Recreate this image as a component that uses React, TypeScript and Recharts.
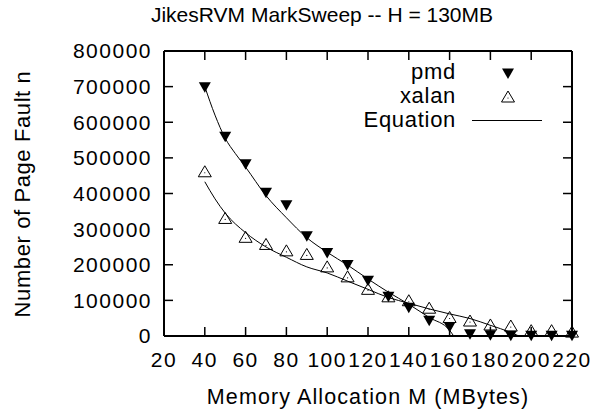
import React from 'react';
import {ComposedChart, Scatter, XAxis, YAxis} from 'recharts';

const FONT = '"Liberation Sans", Arial, Helvetica, sans-serif';

const chartTitle = 'JikesRVM MarkSweep -- H = 130MB';
const xLabel = 'Memory Allocation M (MBytes)';
const yLabel = 'Number of Page Fault n';
const legendNames = ['pmd', 'xalan', 'Equation'];

const X_MIN = 20;
const X_MAX = 220;
const Y_MIN = 0;
const Y_MAX = 800000;
const xTicks = [20, 40, 60, 80, 100, 120, 140, 160, 180, 200, 220];
const yTicks = [0, 100000, 200000, 300000, 400000, 500000, 600000, 700000, 800000];

// measured points
const memoryMB = [40, 50, 60, 70, 80, 90, 100, 110, 120, 130, 140, 150, 160, 170, 180, 190, 200, 210, 220];
const pmdFaults = [698000, 559000, 482000, 402000, 367000, 280000, 233000, 199000, 155000, 110000, 79000, 43000, 25000, 5000, 2000, 1000, 1000, 500, 500];
const xalanFaults = [461000, 330000, 277000, 257000, 239000, 229000, 194000, 166000, 131000, 110000, 99000, 78000, 52000, 42000, 31000, 28000, 15000, 15000, 11000];

// fitted curves ("Equation")
const pmdFitX = [40, 45, 50, 55, 60, 70, 80, 90, 100, 110, 120, 130, 140, 150, 160, 162];
const pmdFitY = [700000, 620000, 555000, 512000, 474000, 394000, 332000, 276000, 235000, 199000, 160000, 123000, 89000, 52000, 16000, 0];
const xalanFitX = [40, 45, 50, 60, 70, 80, 90, 100, 110, 120, 130, 140, 150, 160, 170, 180, 190, 194];
const xalanFitY = [433000, 385000, 345000, 290000, 250000, 221000, 194000, 177000, 154000, 131000, 108000, 92000, 76000, 62000, 49000, 30000, 10000, 0];

const toPoints = (xs: number[], ys: number[]) => xs.map((x, i) => ({x, y: ys[i]}));

const pmdData = toPoints(memoryMB, pmdFaults);
const xalanData = toPoints(memoryMB, xalanFaults);
const pmdFit = toPoints(pmdFitX, pmdFitY);
const xalanFit = toPoints(xalanFitX, xalanFitY);

// gnuplot-style inward tick marks on all four sides, placed through the chart scales
const innerX = xTicks.slice(1, -1);
const innerY = yTicks.slice(1, -1);
const bottomTicks = innerX.map((x) => ({x, y: Y_MIN}));
const topTicks = innerX.map((x) => ({x, y: Y_MAX}));
const leftTicks = innerY.map((y) => ({x: X_MIN, y}));
const rightTicks = innerY.map((y) => ({x: X_MAX, y}));

const TICK_LEN = 9;

const tickMark = (dx: number, dy: number) => ({cx, cy}: any) => (
    <line x1={cx} y1={cy} x2={cx + dx} y2={cy + dy} stroke="#000" strokeWidth={1.5}/>
);

const DownTriangle = ({cx, cy}: any) => (
    <path d={`M${cx - 6},${cy - 5}L${cx + 6},${cy - 5}L${cx},${cy + 5.5}Z`} fill="#000"/>
);

const UpTriangle = ({cx, cy}: any) => (
    <g>
        <path d={`M${cx - 6.5},${cy + 5}L${cx + 6.5},${cy + 5}L${cx},${cy - 6}Z`} fill="none" stroke="#000" strokeWidth={1}/>
        <circle cx={cx} cy={cy + 1} r={0.6} fill="#000"/>
    </g>
);

const NoMark = () => <g/>;

const TitleAndLegend = () => {
    const textStyle = {fontFamily: FONT, fill: '#000'};
    return (
        <g>
            <text x={322} y={22} textAnchor="middle" fontSize={21} {...textStyle}>{chartTitle}</text>
            {legendNames.map((name, i) => (
                <text key={name} x={456} y={79 + i * 24} textAnchor="end" fontSize={22} letterSpacing={0.7} {...textStyle}>{name}</text>
            ))}
            <DownTriangle cx={508} cy={73.5}/>
            <UpTriangle cx={508} cy={97}/>
            <line x1={472} x2={542} y1={120.5} y2={120.5} stroke="#000" strokeWidth={1}/>
        </g>
    );
};

const tickText = {fill: '#000', fontSize: 21, fontFamily: FONT, letterSpacing: 1.5};
const axisLine = {stroke: '#000', strokeWidth: 2};

export default function App() {
    return (
        <div style={{position: 'absolute', left: 0, top: 0}}>
            <ComposedChart width={595} height={411} margin={{top: 50, right: 22, bottom: 0, left: 104}}>
                <XAxis
                    dataKey="x"
                    type="number"
                    domain={[X_MIN, X_MAX]}
                    ticks={xTicks}
                    interval={0}
                    height={75}
                    tickSize={0}
                    tickMargin={16}
                    tick={tickText}
                    tickLine={false}
                    axisLine={axisLine}
                    label={{value: xLabel, position: 'insideBottom', offset: 7, fill: '#000', fontSize: 21.5, fontFamily: FONT, letterSpacing: 1.1}}
                />
                <XAxis
                    xAxisId="top"
                    orientation="top"
                    type="number"
                    domain={[X_MIN, X_MAX]}
                    ticks={xTicks}
                    height={1}
                    tick={false}
                    tickLine={false}
                    axisLine={axisLine}
                    label={{content: () => <TitleAndLegend/>}}
                />
                <YAxis
                    dataKey="y"
                    type="number"
                    domain={[Y_MIN, Y_MAX]}
                    ticks={yTicks}
                    interval={0}
                    width={60}
                    tickSize={0}
                    tickMargin={12}
                    tick={tickText}
                    tickLine={false}
                    axisLine={axisLine}
                    label={{
                        content: () => (
                            <text x={30} y={194} transform="rotate(-90 30 194)" textAnchor="middle"
                                  fontFamily={FONT} fontSize={22} letterSpacing={0.6} fill="#000">{yLabel}</text>
                        ),
                    }}
                />
                <YAxis
                    yAxisId="right"
                    orientation="right"
                    type="number"
                    domain={[Y_MIN, Y_MAX]}
                    ticks={yTicks}
                    width={1}
                    tick={false}
                    tickLine={false}
                    axisLine={axisLine}
                />
                <Scatter data={bottomTicks} shape={tickMark(0, -TICK_LEN)} isAnimationActive={false} legendType="none"/>
                <Scatter data={topTicks} shape={tickMark(0, TICK_LEN)} isAnimationActive={false} legendType="none"/>
                <Scatter data={leftTicks} shape={tickMark(TICK_LEN, 0)} isAnimationActive={false} legendType="none"/>
                <Scatter data={rightTicks} shape={tickMark(-TICK_LEN, 0)} isAnimationActive={false} legendType="none"/>
                <Scatter name="pmd" data={pmdData} shape={DownTriangle} isAnimationActive={false}/>
                <Scatter name="xalan" data={xalanData} shape={UpTriangle} isAnimationActive={false}/>
                <Scatter name="Equation" data={pmdFit} shape={NoMark} line={{stroke: '#000', strokeWidth: 1}}
                         lineJointType="monotoneX" isAnimationActive={false}/>
                <Scatter name="Equation" data={xalanFit} shape={NoMark} line={{stroke: '#000', strokeWidth: 1}}
                         lineJointType="monotoneX" isAnimationActive={false}/>
            </ComposedChart>
        </div>
    );
}
